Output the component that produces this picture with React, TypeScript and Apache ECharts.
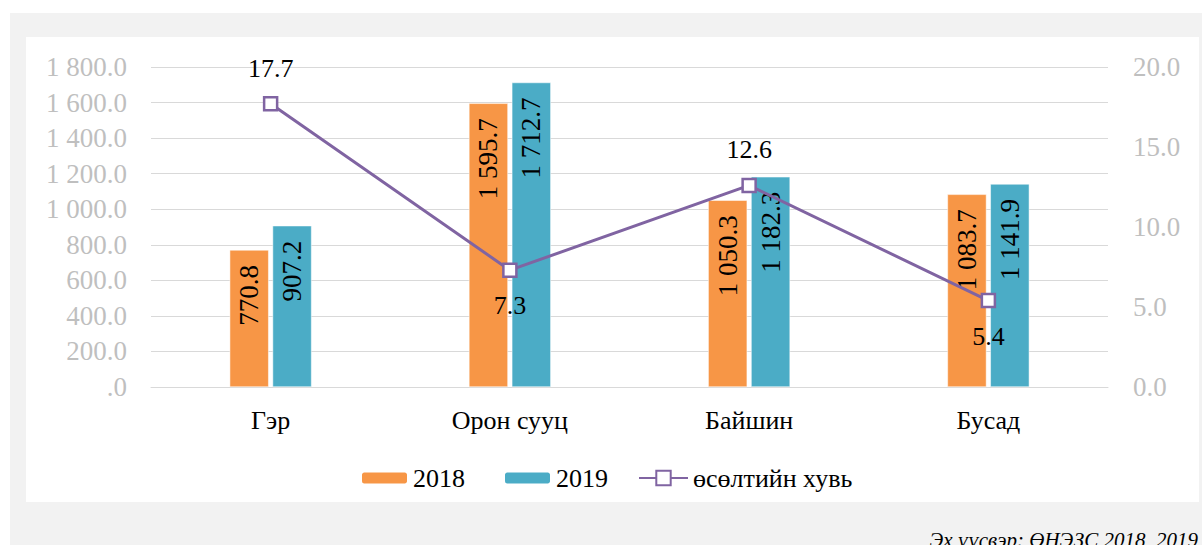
import React, { useEffect, useRef } from "react";
import * as echarts from "echarts";

const categories = ["Гэр", "Орон сууц", "Байшин", "Бусад"];
const values2018 = [770.8, 1595.7, 1050.3, 1083.7];
const values2019 = [907.2, 1712.7, 1182.3, 1141.9];
const growth = [17.7, 7.3, 12.6, 5.4];
const growthLabelSide = ["top", "bottom", "top", "bottom"];
const seriesNames = ["2018", "2019", "өсөлтийн хувь"];
const sourceText = "Эх үүсвэр: ӨНЭЗС 2018, 2019";

const FONT = "Liberation Serif";

function fmtSpace(v: number): string {
  const s = v.toFixed(1);
  const [i, d] = s.split(".");
  const intPart = i.replace(/\B(?=(\d{3})+(?!\d))/g, " ");
  return (intPart === "0" ? "" : intPart) + "." + d;
}

export default function App() {
  const ref = useRef<HTMLDivElement>(null);
  useEffect(() => {
    if (!ref.current) return;
    const chart = echarts.init(ref.current, undefined, { renderer: "svg" });
    const barLabel = {
      show: true,
      position: ["50%", 15],
      rotate: 90,
      align: "right",
      verticalAlign: "middle",
      fontFamily: FONT,
      fontSize: 27,
      color: "#000",
      formatter: (p: any) => fmtSpace(p.value),
    };
    const legendText = { fontFamily: FONT, fontSize: 26, color: "#000" };
    chart.setOption({
      animation: false,
      backgroundColor: "#ffffff",
      textStyle: { fontFamily: FONT },
      graphic: [
        { type: "rect", shape: { x: 10, y: 13, width: 1192, height: 532 }, style: { fill: "#f2f2f2" }, z: -10, silent: true },
        { type: "rect", shape: { x: 26, y: 37, width: 1173, height: 465 }, style: { fill: "#ffffff" }, z: -9, silent: true },
        {
          type: "text",
          right: 4,
          top: 529,
          style: {
            text: sourceText,
            fontFamily: FONT,
            fontStyle: "italic",
            fontSize: 21,
            fill: "#000",
          },
        },
      ],
      grid: { left: 151, right: 94, top: 67, bottom: 158, containLabel: false },
      legend: [
        {
          left: 360,
          top: 465,
          padding: 0,
          itemWidth: 47,
          itemHeight: 13,
          itemGap: 38,
          textStyle: legendText,
          data: [seriesNames[0], seriesNames[1]],
        },
        {
          left: 638,
          top: 465,
          padding: 0,
          itemWidth: 49,
          itemHeight: 18,
          textStyle: legendText,
          data: [seriesNames[2]],
        },
      ],
      xAxis: {
        type: "category",
        data: categories,
        axisLine: { show: true, lineStyle: { color: "#d9d9d9", width: 1 } },
        axisTick: { show: false },
        axisLabel: { fontFamily: FONT, fontSize: 26, color: "#000", margin: 20 },
      },
      yAxis: [
        {
          type: "value",
          min: 0,
          max: 1800,
          interval: 200,
          axisLine: { show: false },
          axisTick: { show: false },
          splitLine: { lineStyle: { color: "#d9d9d9", width: 1 } },
          axisLabel: { fontFamily: FONT, fontSize: 27, color: "#bfbfbf", margin: 24, formatter: (v: number) => fmtSpace(v) },
        },
        {
          type: "value",
          min: 0,
          max: 20,
          interval: 5,
          axisLine: { show: false },
          axisTick: { show: false },
          splitLine: { show: false },
          axisLabel: { fontFamily: FONT, fontSize: 27, color: "#bfbfbf", margin: 25, formatter: (v: number) => v.toFixed(1) },
        },
      ],
      series: [
        {
          name: seriesNames[0],
          type: "bar",
          data: values2018,
          barWidth: 39,
          barGap: "10%",
          itemStyle: { color: "#F79646", borderColor: "#ffffff", borderWidth: 0.5 },
          label: barLabel,
        },
        {
          name: seriesNames[1],
          type: "bar",
          data: values2019,
          barWidth: 39,
          barGap: "10%",
          itemStyle: { color: "#4BACC6", borderColor: "#ffffff", borderWidth: 0.5 },
          label: barLabel,
        },
        {
          name: seriesNames[2],
          type: "line",
          yAxisIndex: 1,
          z: 5,
          symbol: "rect",
          symbolSize: 13,
          lineStyle: { color: "#8064A2", width: 3 },
          itemStyle: { color: "#ffffff", borderColor: "#8064A2", borderWidth: 2.5 },
          data: growth.map((v, i) => ({
            value: v,
            label: {
              show: true,
              position: growthLabelSide[i],
              distance: 15,
              fontFamily: FONT,
              fontSize: 26,
              color: "#000",
              formatter: (p: any) => Number(p.value).toFixed(1),
            },
          })),
        },
      ],
    });
    return () => chart.dispose();
  }, []);
  return (
    <div
      ref={ref}
      style={{ position: "fixed", left: 0, top: 0, width: 1202, height: 545, background: "#fff" }}
    />
  );
}
